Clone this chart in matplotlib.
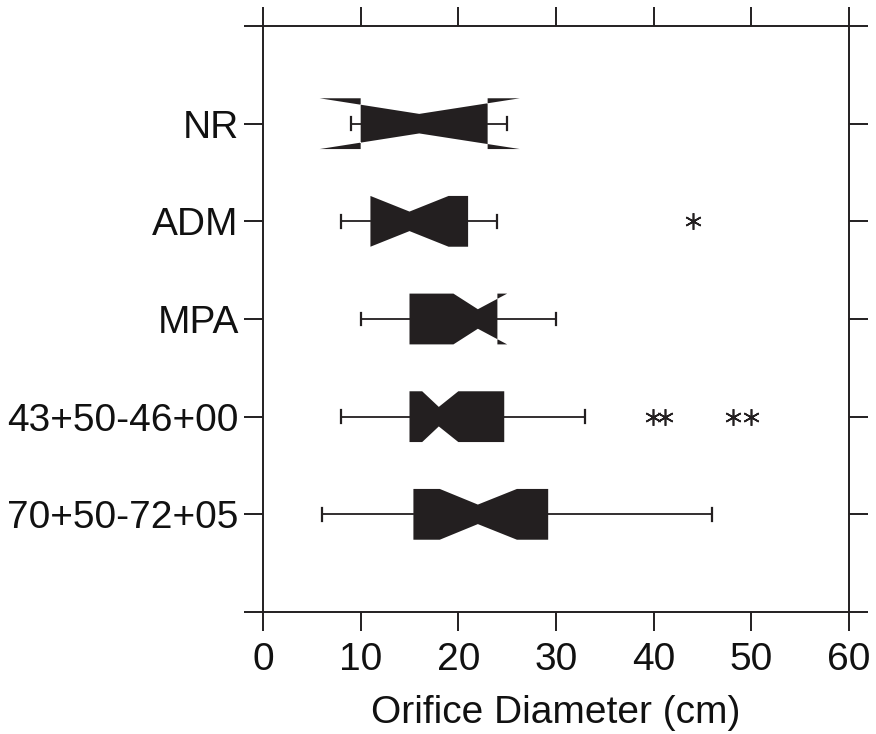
import matplotlib
matplotlib.use("Agg")
import matplotlib.pyplot as plt

plt.rcParams["font.family"] = ["Liberation Sans", "DejaVu Sans"]

# Box statistics per reach (cm), listed top to bottom
categories = ["NR", "ADM", "MPA", "43+50-46+00", "70+50-72+05"]
whisker_low = [9.0, 8.0, 10.0, 8.0, 6.0]
q1 = [10.0, 11.0, 15.0, 15.0, 15.4]
notch_low = [5.8, 11.0, 19.5, 16.3, 18.1]
median = [16.0, 15.0, 22.0, 18.0, 22.0]
notch_high = [26.3, 19.0, 25.0, 20.0, 26.0]
q3 = [23.0, 21.0, 24.0, 24.7, 29.2]
whisker_high = [25.0, 24.0, 30.0, 33.0, 46.0]
outliers = [[], [44.0], [], [39.9, 41.2, 48.1, 50.0], []]

x_ticks = [0, 10, 20, 30, 40, 50, 60]

INK = "#231f20"
half_box = 0.26
half_waist = 0.10
half_cap = 0.065

fig = plt.figure(figsize=(8.76, 7.34), dpi=100)
ax = fig.add_axes([263 / 876, 1 - 612 / 734, (849 - 263) / 876, (612 - 26) / 734])

n = len(categories)
positions = [n - i for i in range(n)]

for i, pos in enumerate(positions):
    xs = [q1[i], notch_low[i], median[i], notch_high[i], q3[i],
          q3[i], notch_high[i], median[i], notch_low[i], q1[i]]
    ys = [pos - half_box, pos - half_box, pos - half_waist, pos - half_box, pos - half_box,
          pos + half_box, pos + half_box, pos + half_waist, pos + half_box, pos + half_box]
    ax.fill(xs, ys, facecolor=INK, edgecolor="none", zorder=2)
    # whiskers and caps
    ax.plot([whisker_low[i], q1[i]], [pos, pos], color=INK, lw=1.3, zorder=1)
    ax.plot([q3[i], whisker_high[i]], [pos, pos], color=INK, lw=1.3, zorder=1)
    for w in (whisker_low[i], whisker_high[i]):
        ax.plot([w, w], [pos - half_cap, pos + half_cap], color=INK, lw=1.6, zorder=1)
    if outliers[i]:
        ax.plot(outliers[i], [pos] * len(outliers[i]), linestyle="none",
                marker=(6, 2, 0), markersize=12, markeredgewidth=1.2,
                color=INK, zorder=3)

ax.set_xlim(0, 60)
ax.set_ylim(0, n + 1)
ax.set_xticks(x_ticks)
ax.set_xticklabels([str(t) for t in x_ticks])
ax.set_yticks(range(0, n + 2))
ax.set_yticklabels([""] + categories[::-1] + [""])

for s in ax.spines.values():
    s.set_linewidth(1.4)
    s.set_color(INK)

ax.tick_params(axis="both", which="both", direction="out", length=13.5, width=1.4,
               color=INK, labelsize=28, labelcolor="#111111",
               top=True, right=True, labeltop=False, labelright=False)
ax.tick_params(axis="x", pad=8)
ax.tick_params(axis="y", pad=4)

ax.set_xlabel("Orifice Diameter (cm)", fontsize=28, color="#111111", labelpad=12)

fig.savefig("out.png", dpi=100)
